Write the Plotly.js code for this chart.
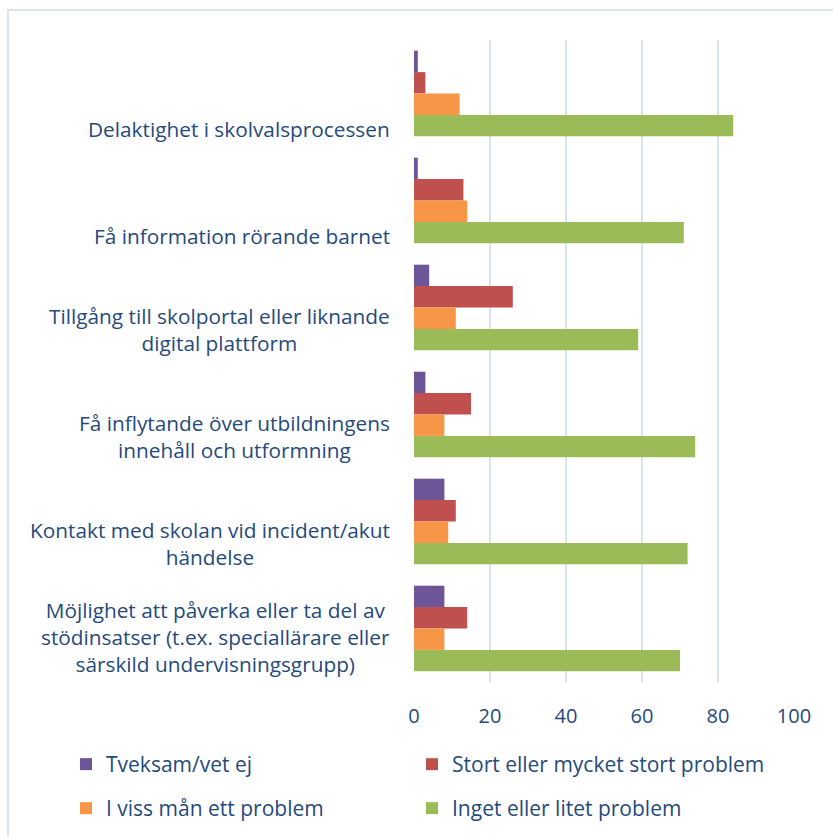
<!DOCTYPE html>
<html>
<head>
<meta charset="utf-8">
<script src="https://cdn.plot.ly/plotly-3.0.1.min.js"></script>
<style>
  html, body { margin: 0; padding: 0; background: #fff; overflow: hidden; }
  #frame { position: absolute; left: 7px; top: 9px; width: 900px; height: 900px;
           border-top: 2px solid #dae4f1; border-left: 2px solid #dae4f1; pointer-events: none; z-index: 5; }
  #chart { width: 833px; height: 837px; }
</style>
</head>
<body>
<div id="frame"></div>
<div id="chart"></div>
<script>
// ---- data ----
const categories = [
  "Delaktighet i skolvalsprocessen",
  "Få information rörande barnet",
  "Tillgång till skolportal eller liknande<br>digital plattform",
  "Få inflytande över utbildningens<br>innehåll och utformning",
  "Kontakt med skolan vid incident/akut<br>händelse",
  "Möjlighet att påverka eller ta del av<br>stödinsatser (t.ex. speciallärare eller<br>särskild undervisningsgrupp)"
];
const seriesNames = [
  "Tveksam/vet ej",
  "Stort eller mycket stort problem",
  "I viss mån ett problem",
  "Inget eller litet problem"
];
const tveksam   = [1, 1, 4, 3, 8, 8];
const stort     = [3, 13, 26, 15, 11, 14];
const vissMan   = [12, 14, 11, 8, 9, 8];
const inget     = [84, 71, 59, 74, 72, 70];
const xTicks    = [0, 20, 40, 60, 80, 100];

// ---- styling ----
const colors = ["#6d5597", "#c0504d", "#f79646", "#9bbb59"];
const legendIds = ["legend", "legend2", "legend3", "legend4"];
const legendPos = [[66, 744], [412, 744], [66, 788], [412, 788]]; // px in container
const textColor = "#254a7c";
const fontFam = "Open Sans, Noto Sans, sans-serif";
const values = [tveksam, stort, vissMan, inget];

const traces = values.map((v, i) => ({
  type: "bar",
  orientation: "h",
  name: seriesNames[i],
  x: v,
  y: categories,
  marker: { color: colors[i] },
  legend: legendIds[i],
  hoverinfo: "x+name"
}));

const annotations = categories.map(c => ({
  xref: "paper", yref: "y",
  x: 0, y: c,
  xanchor: "right", yanchor: "bottom",
  xshift: -22, yshift: -51,
  align: "center",
  showarrow: false,
  text: c,
  font: { family: fontFam, size: 20.8, color: textColor }
}));

const layout = {
  width: 833, height: 837,
  margin: { l: 414, r: 39, t: 40, b: 155 },
  paper_bgcolor: "#ffffff",
  plot_bgcolor: "#ffffff",
  barmode: "group",
  bargap: 0.2,
  bargroupgap: 0,
  showlegend: true,
  xaxis: {
    range: [0, 100],
    tickvals: xTicks,
    ticktext: xTicks.map(String),
    showgrid: true,
    gridcolor: "#d8e3f0",
    gridwidth: 2,
    zeroline: false,
    showline: false,
    ticks: "",
    ticklabelstandoff: 20,
    tickfont: { family: fontFam, size: 20, color: textColor },
    fixedrange: true
  },
  yaxis: {
    type: "category",
    autorange: "reversed",
    showticklabels: false,
    showgrid: false,
    zeroline: false,
    showline: false,
    ticks: "",
    fixedrange: true
  },
  annotations: annotations
};

legendIds.forEach((id, i) => {
  layout[id] = {
    orientation: "h",
    xref: "container", yref: "container",
    x: legendPos[i][0] / 833, y: 1 - legendPos[i][1] / 837,
    xanchor: "left", yanchor: "top",
    itemwidth: 30,
    font: { family: fontFam, size: 21, color: textColor },
    bgcolor: "rgba(0,0,0,0)"
  };
});

Plotly.newPlot("chart", traces, layout, { displayModeBar: false, staticPlot: true });
</script>
</body>
</html>
